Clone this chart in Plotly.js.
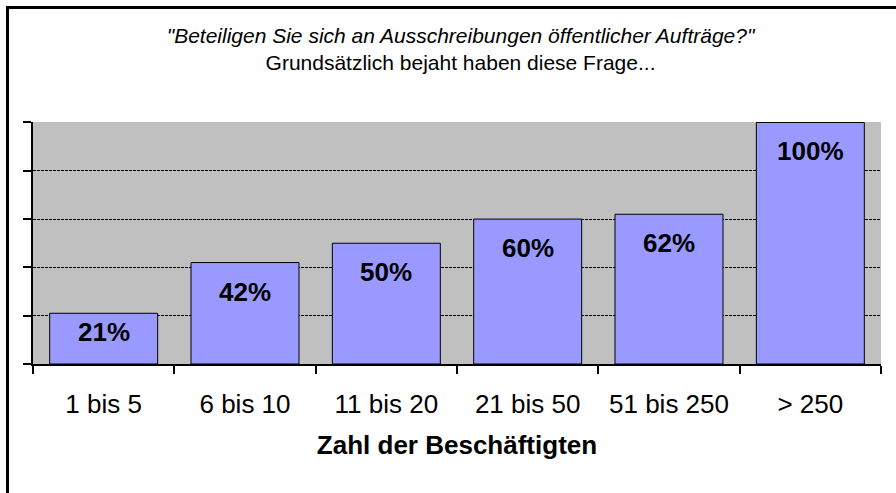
<!DOCTYPE html>
<html>
<head>
<meta charset="utf-8">
<script src="https://cdn.plot.ly/plotly-3.0.1.min.js"></script>
<style>
  html, body { margin: 0; padding: 0; background: #fff; }
  #wrap { position: relative; width: 896px; height: 493px; overflow: hidden; }
  #chart { width: 896px; height: 493px; }
  #frame { position: absolute; left: 6px; top: 6px; width: 1000px; height: 1000px;
           border-top: 3px solid #000; border-left: 3px solid #000; pointer-events: none; }
</style>
</head>
<body>
<div id="wrap">
  <div id="chart"></div>
  <div id="frame"></div>
</div>
<script>
// Data
const categories = ["1 bis 5", "6 bis 10", "11 bis 20", "21 bis 50", "51 bis 250", "> 250"];
const values = [21, 42, 50, 60, 62, 100];
const labels = ["21%", "42%", "50%", "60%", "62%", "100%"];
const yTicks = [0, 20, 40, 60, 80, 100];

const FONT = '"Liberation Sans", Arial, sans-serif';

const trace = {
  type: 'bar',
  x: categories,
  y: values,
  marker: { color: '#9999ff', line: { color: '#000', width: 1 } },
  hoverinfo: 'x+y',
  showlegend: false
};

const annotations = categories.map((c, i) => ({
  x: c, y: values[i], xref: 'x', yref: 'y',
  text: '<b>' + labels[i] + '</b>',
  showarrow: false,
  yanchor: 'middle',
  yshift: values[i] < 30 ? -19 : -29,
  font: { family: FONT, size: 26, color: '#000' }
}));

const layout = {
  width: 896, height: 493,
  margin: { l: 33, r: 15, t: 122, b: 129, pad: 0 },
  paper_bgcolor: '#ffffff',
  plot_bgcolor: '#c0c0c0',
  font: { family: FONT, color: '#000' },
  title: {
    text: '<i>"Beteiligen Sie sich an Ausschreibungen öffentlicher Aufträge?"</i><br>Grundsätzlich bejaht haben diese Frage...',
    font: { family: FONT, size: 21, color: '#000' },
    xref: 'container', x: 0.514, xanchor: 'center',
    yref: 'container', y: 1 - 43 / 493, yanchor: 'top'
  },
  bargap: 0.236,
  xaxis: {
    type: 'category',
    showline: true, linecolor: '#000', linewidth: 2,
    ticks: 'outside', tickson: 'boundaries', ticklen: 8, tickwidth: 2, tickcolor: '#000',
    tickfont: { family: FONT, size: 26, color: '#000' },
    ticklabelstandoff: 16,
    showgrid: false, zeroline: false,
    title: { text: '<b>Zahl der Beschäftigten</b>', font: { family: FONT, size: 26, color: '#000' }, standoff: 18 }
  },
  yaxis: {
    range: [0, 100.2],
    tickvals: yTicks,
    showticklabels: false,
    showline: true, linecolor: '#000', linewidth: 2,
    ticks: 'outside', ticklen: 8, tickwidth: 2, tickcolor: '#000',
    showgrid: true, gridcolor: '#000', gridwidth: 1, griddash: '3px,1px',
    zeroline: false
  },
  annotations: annotations
};

Plotly.newPlot('chart', [trace], layout, { displayModeBar: false, staticPlot: true });
</script>
</body>
</html>
